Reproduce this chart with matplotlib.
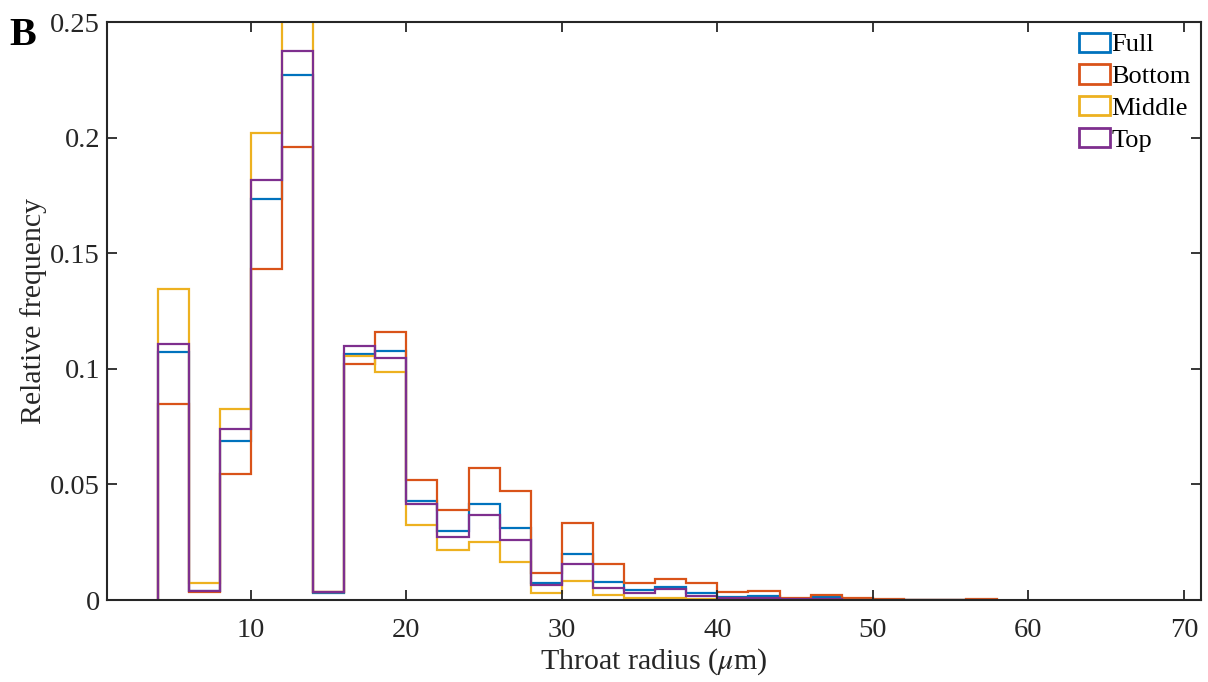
import matplotlib
matplotlib.use("Agg")
import matplotlib.pyplot as plt
from matplotlib.patches import Patch
import numpy as np

plt.rcParams['font.family'] = ['Liberation Serif', 'DejaVu Serif']
plt.rcParams['mathtext.fontset'] = 'stix'

bin_edges = np.arange(4, 60, 2)  # 4,6,...,58

series_names = ["Full", "Bottom", "Middle", "Top"]
series_colors = ["#0072BD", "#D95319", "#EDB120", "#7E2F8E"]

full = [0.1071, 0.0040, 0.0688, 0.1735, 0.2270, 0.0030, 0.1064, 0.1077,
        0.0430, 0.0298, 0.0414, 0.0310, 0.0075, 0.0199, 0.0079, 0.0043,
        0.0055, 0.0032, 0.0015, 0.0017, 0.0006, 0.0012, 0.0004, 0.0002,
        0.0000, 0.0000, 0.0001]
bottom = [0.0848, 0.0033, 0.0545, 0.1430, 0.1959, 0.0035, 0.1021, 0.1159,
          0.0519, 0.0389, 0.0572, 0.0471, 0.0115, 0.0332, 0.0156, 0.0072,
          0.0091, 0.0072, 0.0033, 0.0039, 0.0010, 0.0022, 0.0008, 0.0006,
          0.0000, 0.0000, 0.0005]
middle = [0.1344, 0.0072, 0.0825, 0.2018, 0.2620, 0.0035, 0.1055, 0.0988,
          0.0324, 0.0216, 0.0252, 0.0163, 0.0029, 0.0082, 0.0022, 0.0010,
          0.0010, 0.0005, 0.0003, 0.0002, 0.0001, 0.0001, 0.0000, 0.0000,
          0.0000, 0.0000, 0.0000]
top = [0.1106, 0.0039, 0.0741, 0.1817, 0.2376, 0.0036, 0.1099, 0.1048,
       0.0415, 0.0271, 0.0368, 0.0260, 0.0065, 0.0154, 0.0050, 0.0032,
       0.0048, 0.0017, 0.0010, 0.0010, 0.0003, 0.0005, 0.0002, 0.0001,
       0.0000, 0.0000, 0.0000]
all_series = [full, bottom, middle, top]

x_ticks = [10, 20, 30, 40, 50, 60, 70]
y_ticks = [0, 0.05, 0.1, 0.15, 0.2, 0.25]
y_tick_labels = ["0", "0.05", "0.1", "0.15", "0.2", "0.25"]

fig = plt.figure(figsize=(12.08, 6.82), dpi=100)
ax = fig.add_axes([0.0886, 0.1202, 0.9056, 0.8475])

for vals, name, col in zip(all_series, series_names, series_colors):
    ax.stairs(vals, bin_edges, baseline=0, color=col, linewidth=1.6, label=name)

ax.set_xlim(0.75, 71.1)
ax.set_ylim(0, 0.25)
ax.set_xticks(x_ticks)
ax.set_yticks(y_ticks)
ax.set_yticklabels(y_tick_labels)
ax.tick_params(direction='in', length=7, width=1.3, top=True, right=True,
               labelsize=20.5, colors='#262626')
ax.tick_params(axis='x', pad=13)
ax.tick_params(axis='y', pad=5)
for s in ax.spines.values():
    s.set_linewidth(1.5)
    s.set_color('#262626')

ax.set_xlabel(r'Throat radius ($\mu$m)', fontsize=21.5, color='#262626', labelpad=2)
ax.set_ylabel('Relative frequency', fontsize=21.5, color='#262626', labelpad=2)

handles = [Patch(facecolor='white', edgecolor=c, linewidth=2.0, label=n)
           for n, c in zip(series_names, series_colors)]
ax.legend(handles=handles, loc='upper right', frameon=False, fontsize=19,
          handlelength=1.15, handleheight=0.75, handletextpad=0.05,
          labelspacing=0.3, borderaxespad=0.0, bbox_to_anchor=(1.0, 1.0))

fig.text(0.008, 0.948, 'B', fontsize=29, fontweight='bold', ha='left', va='center')

fig.savefig('out.png', dpi=100)
